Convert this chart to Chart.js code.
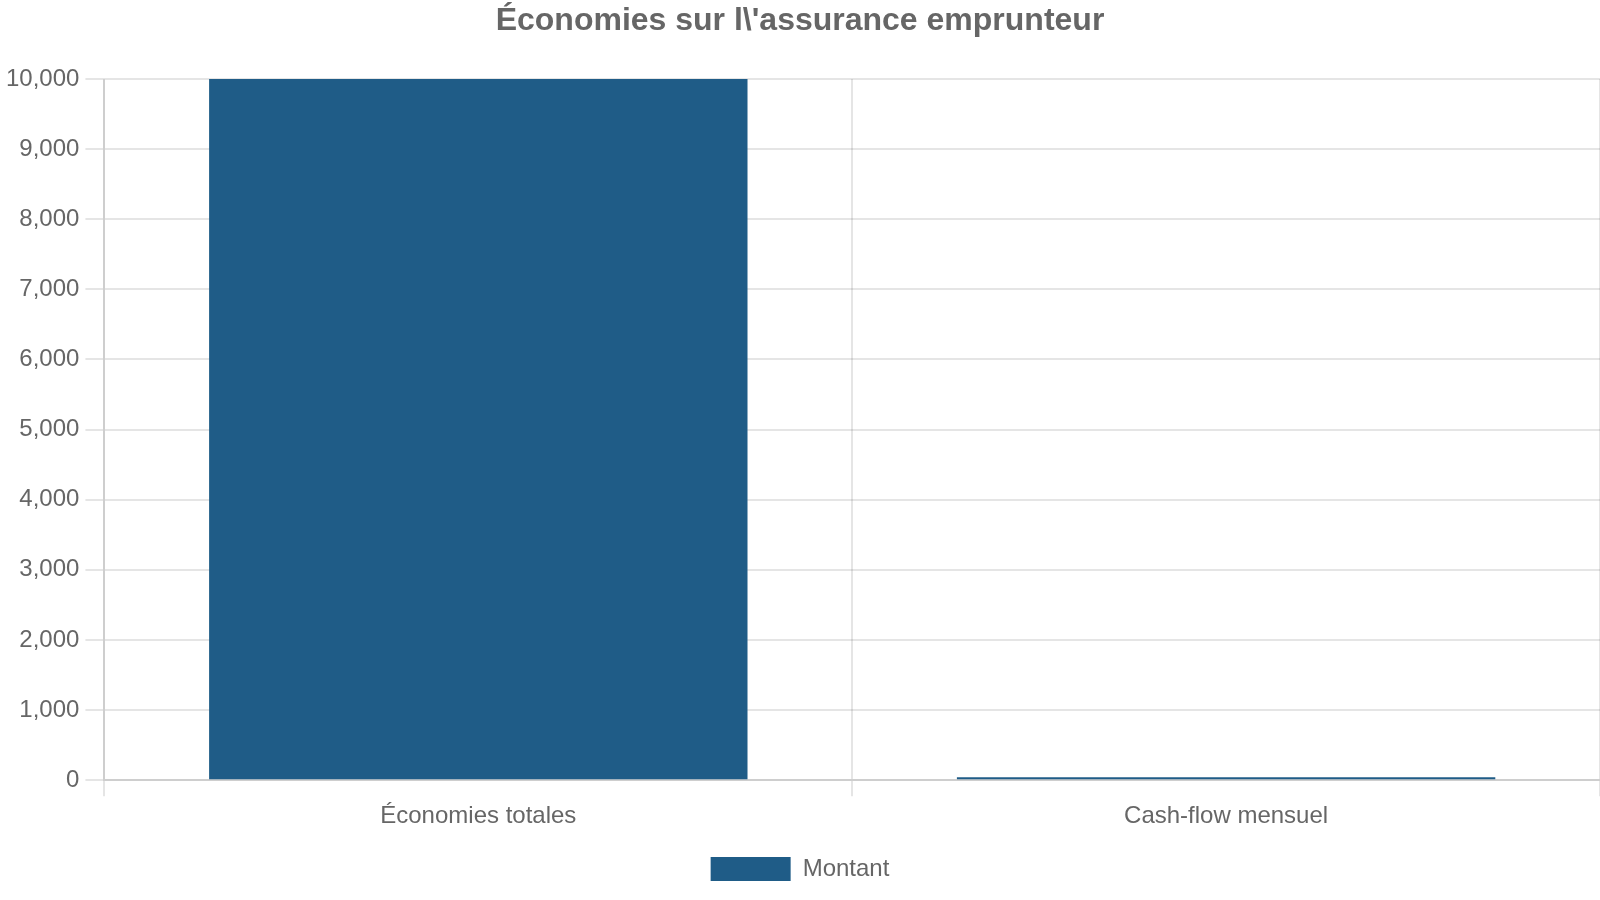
<!DOCTYPE html>
<html>
<head>
<meta charset="utf-8">
<script src="https://cdn.jsdelivr.net/npm/chart.js@4"></script>
<style>
html,body{margin:0;padding:0;background:#fff;}
canvas{display:block;}
</style>
</head>
<body>
<canvas id="c" width="1600" height="900"></canvas>
<script>
const categories = ["Économies totales", "Cash-flow mensuel"];
const montant = [10000, 42];
const seriesLabel = "Montant";
const chartTitle = "Économies sur l\\'assurance emprunteur";
const yMax = 10000;
const yStep = 1000;

Chart.defaults.font.family = "'Liberation Sans', Arial, sans-serif";
Chart.defaults.font.size = 24;
Chart.defaults.color = '#666';

new Chart(document.getElementById('c'), {
  type: 'bar',
  data: {
    labels: categories,
    datasets: [{
      label: seriesLabel,
      data: montant,
      backgroundColor: '#1f5c87',
      borderColor: '#1f5c87',
      borderWidth: 0
    }]
  },
  options: {
    responsive: false,
    animation: false,
    devicePixelRatio: 1,
    layout: { padding: { left: 0, right: 0, top: 0, bottom: 9 } },
    plugins: {
      title: {
        display: true,
        text: chartTitle,
        font: { size: 32, weight: 'bold' },
        color: '#666',
        padding: { top: 2, bottom: 38.5 }
      },
      legend: {
        position: 'bottom',
        labels: { boxWidth: 80, boxHeight: 24, padding: 20, font: { size: 24 } }
      },
      tooltip: { enabled: false }
    },
    scales: {
      x: {
        grid: { lineWidth: 2, tickLength: 16 },
        border: { width: 2 },
        ticks: { padding: 6, font: { size: 24 } }
      },
      y: {
        beginAtZero: true,
        max: yMax,
        grid: { lineWidth: 2, tickLength: 19 },
        border: { width: 2 },
        ticks: { stepSize: yStep, padding: 6, font: { size: 24 } }
      }
    }
  }
});
</script>
</body>
</html>
